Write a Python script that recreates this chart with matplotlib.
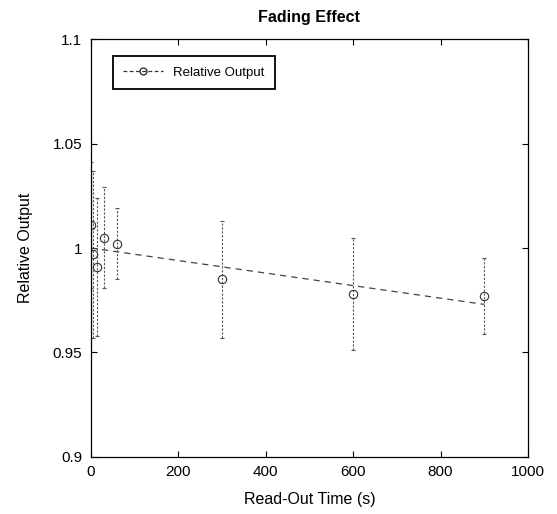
import matplotlib
matplotlib.use("Agg")
import matplotlib.pyplot as plt
from matplotlib.lines import Line2D

# read-out time (s), relative output, error
tiempo = [0, 5, 15, 30, 60, 300, 600, 900]
salida = [1.011, 0.997, 0.991, 1.005, 1.002, 0.985, 0.978, 0.977]
error = [0.030, 0.040, 0.033, 0.024, 0.017, 0.028, 0.027, 0.018]

# linear fit drawn as dashed line
ajuste_x = [0, 900]
ajuste_y = [1.000, 0.973]

plt.rcParams['font.family'] = ['Liberation Sans', 'DejaVu Sans']

fig = plt.figure(figsize=(5.57, 5.14), dpi=100)
ax = fig.add_axes([0.163, 0.111, 0.785, 0.813])

eb = ax.errorbar(tiempo, salida, yerr=error, fmt='o', mfc='none', mec='#333333',
                 ms=6, mew=0.8, ecolor='#555555', elinewidth=0.8, capsize=1.5)
for barra in eb[2]:
    barra.set_linestyle((0, (2, 1.5)))

ax.plot(ajuste_x, ajuste_y, linestyle=(0, (5, 4)), color='#444444', lw=0.9)

ax.set_xlim(0, 1000)
ax.set_ylim(0.9, 1.1)
ax.set_xticks([0, 200, 400, 600, 800, 1000])
ax.set_yticks([0.9, 0.95, 1.0, 1.05, 1.1])
ax.set_yticklabels(['0.9', '0.95', '1', '1.05', '1.1'])
ax.tick_params(direction='in', length=4, labelsize=11, top=True, right=True, pad=6)
for s in ax.spines.values():
    s.set_linewidth(0.9)

ax.set_title('Fading Effect', fontsize=11.5, fontweight='bold', pad=12)
ax.set_xlabel('Read-Out Time (s)', fontsize=11.5, labelpad=9)
ax.set_ylabel('Relative Output', fontsize=11.5, labelpad=14)

proxy = Line2D([], [], linestyle=(0, (3, 2)), color='#333333', lw=0.9,
               marker='o', mfc='none', mec='#333333', ms=5)
leg = ax.legend([proxy], ['Relative Output'], loc='upper left', fontsize=9.5,
                fancybox=False, edgecolor='black', framealpha=1,
                bbox_to_anchor=(0.035, 0.975), handlelength=3.0, borderpad=0.8)
leg.get_frame().set_linewidth(1.3)

fig.savefig('out.png', dpi=100)
